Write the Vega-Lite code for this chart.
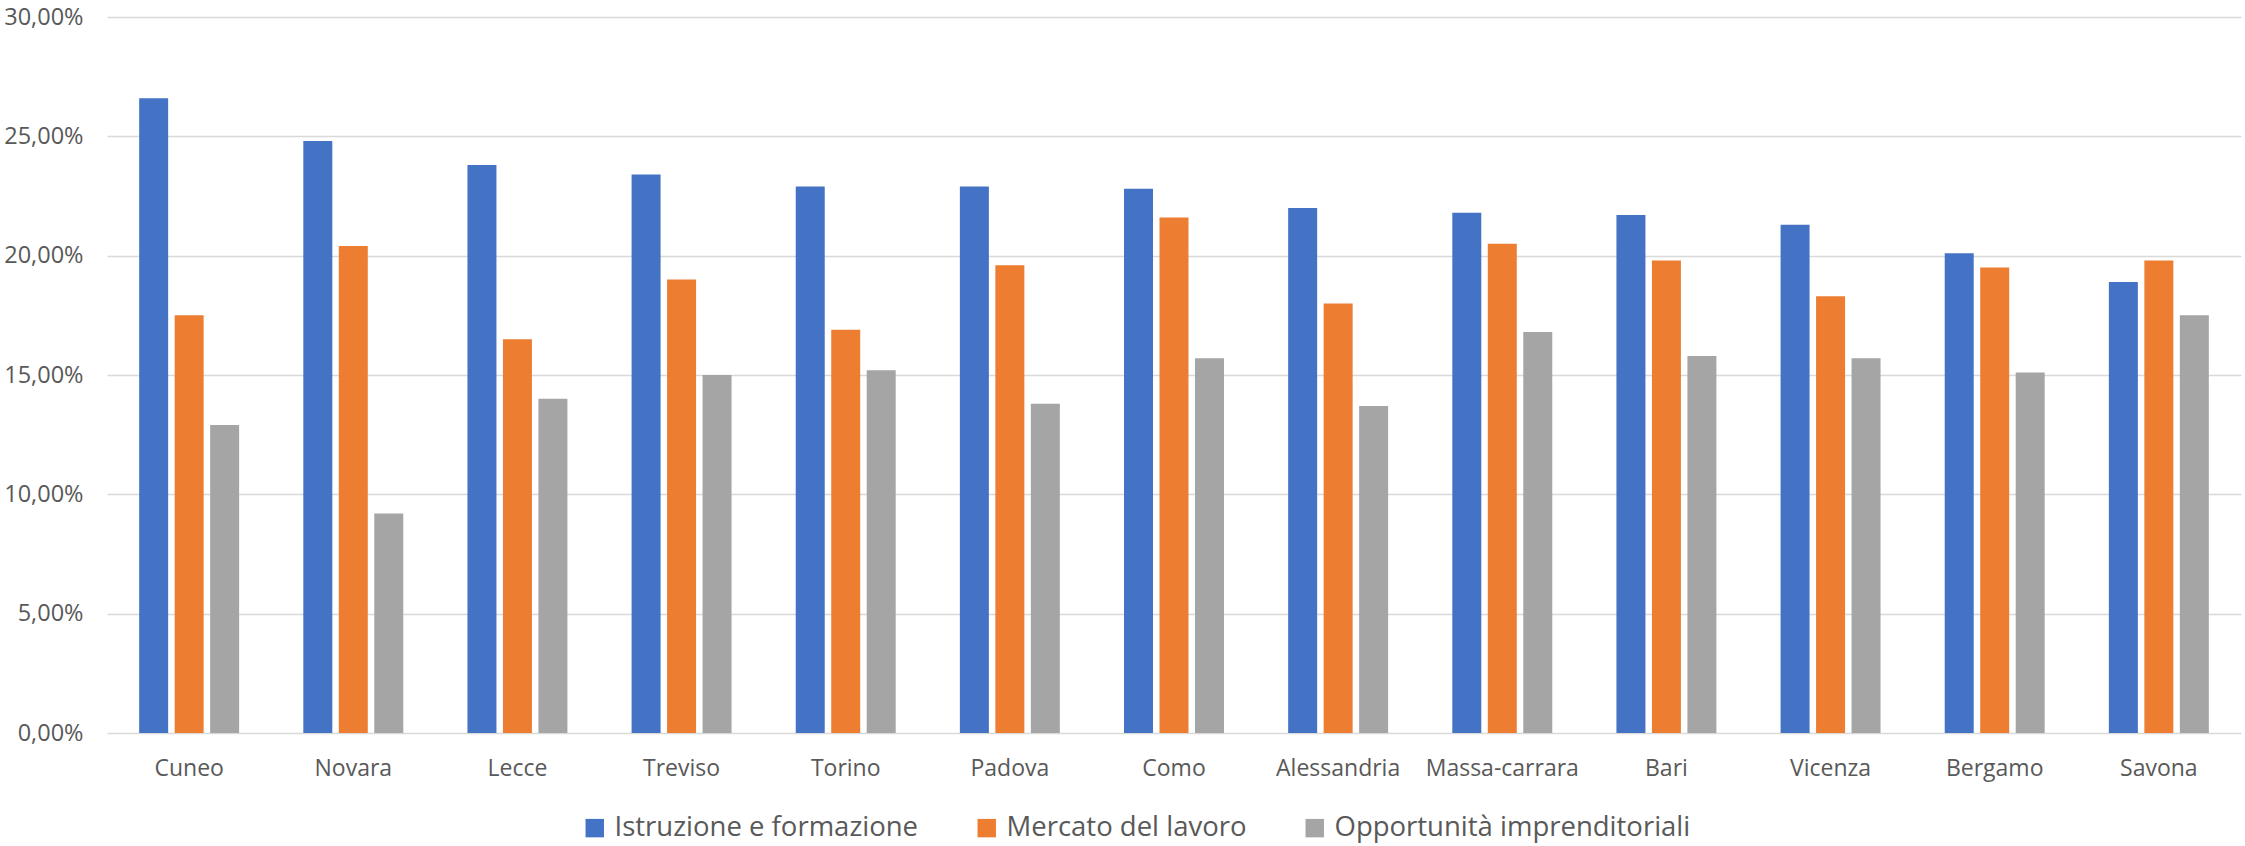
{
  "$schema": "https://vega.github.io/schema/vega-lite/v6.json",
  "width": 2134,
  "height": 716,
  "autosize": {"type": "none"},
  "padding": {"left": 107, "top": 17, "right": 4, "bottom": 113},
  "background": "white",
  "config": {
    "locale": {
      "number": {"decimal": ",", "thousands": ".", "grouping": [3], "currency": ["€", ""]}
    },
    "view": {"stroke": null},
    "font": "Open Sans"
  },
  "data": {
    "values": [
      {"citta": "Cuneo", "indicatore": "Istruzione e formazione", "valore": 0.266},
      {"citta": "Cuneo", "indicatore": "Mercato del lavoro", "valore": 0.175},
      {"citta": "Cuneo", "indicatore": "Opportunità imprenditoriali", "valore": 0.129},
      {"citta": "Novara", "indicatore": "Istruzione e formazione", "valore": 0.248},
      {"citta": "Novara", "indicatore": "Mercato del lavoro", "valore": 0.204},
      {"citta": "Novara", "indicatore": "Opportunità imprenditoriali", "valore": 0.092},
      {"citta": "Lecce", "indicatore": "Istruzione e formazione", "valore": 0.238},
      {"citta": "Lecce", "indicatore": "Mercato del lavoro", "valore": 0.165},
      {"citta": "Lecce", "indicatore": "Opportunità imprenditoriali", "valore": 0.140},
      {"citta": "Treviso", "indicatore": "Istruzione e formazione", "valore": 0.234},
      {"citta": "Treviso", "indicatore": "Mercato del lavoro", "valore": 0.190},
      {"citta": "Treviso", "indicatore": "Opportunità imprenditoriali", "valore": 0.150},
      {"citta": "Torino", "indicatore": "Istruzione e formazione", "valore": 0.229},
      {"citta": "Torino", "indicatore": "Mercato del lavoro", "valore": 0.169},
      {"citta": "Torino", "indicatore": "Opportunità imprenditoriali", "valore": 0.152},
      {"citta": "Padova", "indicatore": "Istruzione e formazione", "valore": 0.229},
      {"citta": "Padova", "indicatore": "Mercato del lavoro", "valore": 0.196},
      {"citta": "Padova", "indicatore": "Opportunità imprenditoriali", "valore": 0.138},
      {"citta": "Como", "indicatore": "Istruzione e formazione", "valore": 0.228},
      {"citta": "Como", "indicatore": "Mercato del lavoro", "valore": 0.216},
      {"citta": "Como", "indicatore": "Opportunità imprenditoriali", "valore": 0.157},
      {"citta": "Alessandria", "indicatore": "Istruzione e formazione", "valore": 0.220},
      {"citta": "Alessandria", "indicatore": "Mercato del lavoro", "valore": 0.180},
      {"citta": "Alessandria", "indicatore": "Opportunità imprenditoriali", "valore": 0.137},
      {"citta": "Massa-carrara", "indicatore": "Istruzione e formazione", "valore": 0.218},
      {"citta": "Massa-carrara", "indicatore": "Mercato del lavoro", "valore": 0.205},
      {"citta": "Massa-carrara", "indicatore": "Opportunità imprenditoriali", "valore": 0.168},
      {"citta": "Bari", "indicatore": "Istruzione e formazione", "valore": 0.217},
      {"citta": "Bari", "indicatore": "Mercato del lavoro", "valore": 0.198},
      {"citta": "Bari", "indicatore": "Opportunità imprenditoriali", "valore": 0.158},
      {"citta": "Vicenza", "indicatore": "Istruzione e formazione", "valore": 0.213},
      {"citta": "Vicenza", "indicatore": "Mercato del lavoro", "valore": 0.183},
      {"citta": "Vicenza", "indicatore": "Opportunità imprenditoriali", "valore": 0.157},
      {"citta": "Bergamo", "indicatore": "Istruzione e formazione", "valore": 0.201},
      {"citta": "Bergamo", "indicatore": "Mercato del lavoro", "valore": 0.195},
      {"citta": "Bergamo", "indicatore": "Opportunità imprenditoriali", "valore": 0.151},
      {"citta": "Savona", "indicatore": "Istruzione e formazione", "valore": 0.189},
      {"citta": "Savona", "indicatore": "Mercato del lavoro", "valore": 0.198},
      {"citta": "Savona", "indicatore": "Opportunità imprenditoriali", "valore": 0.175}
    ]
  },
  "mark": {"type": "bar"},
  "encoding": {
    "x": {
      "field": "citta",
      "type": "nominal",
      "sort": ["Cuneo", "Novara", "Lecce", "Treviso", "Torino", "Padova", "Como", "Alessandria", "Massa-carrara", "Bari", "Vicenza", "Bergamo", "Savona"],
      "scale": {"paddingInner": 0.391, "paddingOuter": 0.196},
      "axis": {
        "title": null,
        "labelAngle": 0,
        "labelFontSize": 23,
        "labelColor": "#595959",
        "labelPadding": 24,
        "ticks": false,
        "domain": false,
        "grid": false
      }
    },
    "xOffset": {
      "field": "indicatore",
      "type": "nominal",
      "sort": ["Istruzione e formazione", "Mercato del lavoro", "Opportunità imprenditoriali"],
      "scale": {"paddingInner": 0.183, "paddingOuter": 0}
    },
    "y": {
      "field": "valore",
      "type": "quantitative",
      "scale": {"domain": [0, 0.3], "nice": false},
      "axis": {
        "title": null,
        "format": ".2%",
        "values": [0, 0.05, 0.1, 0.15, 0.2, 0.25, 0.3],
        "labelFontSize": 23.5,
        "labelColor": "#595959",
        "labelPadding": 24,
        "ticks": false,
        "domain": false,
        "grid": true,
        "gridColor": "#d9d9d9",
        "gridWidth": 1.5
      }
    },
    "color": {
      "field": "indicatore",
      "type": "nominal",
      "sort": ["Istruzione e formazione", "Mercato del lavoro", "Opportunità imprenditoriali"],
      "scale": {
        "domain": ["Istruzione e formazione", "Mercato del lavoro", "Opportunità imprenditoriali"],
        "range": ["#4472C4", "#ED7D31", "#A5A5A5"]
      },
      "legend": {
        "title": null,
        "orient": "none",
        "direction": "horizontal",
        "legendX": 474,
        "legendY": 797,
        "symbolType": "square",
        "symbolSize": 340,
        "symbolStrokeWidth": 0,
        "labelFontSize": 27.5,
        "labelColor": "#595959",
        "labelOffset": 6,
        "columnPadding": 54,
        "labelLimit": 700,
        "padding": 0
      }
    }
  }
}
